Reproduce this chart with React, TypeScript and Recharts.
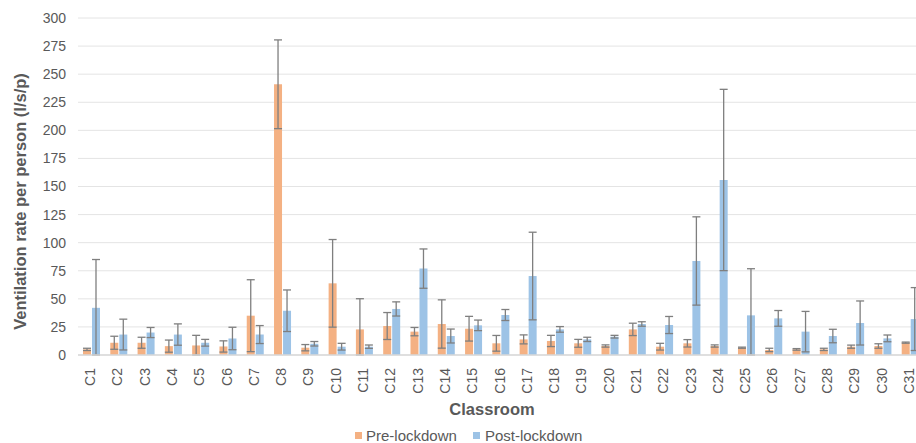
import React from 'react';
import { BarChart, Bar, XAxis, YAxis, CartesianGrid, ErrorBar, Legend } from 'recharts';

const classrooms = ['C1','C2','C3','C4','C5','C6','C7','C8','C9','C10','C11','C12','C13','C14','C15','C16','C17','C18','C19','C20','C21','C22','C23','C24','C25','C26','C27','C28','C29','C30','C31'];
const preLockdown = [5, 10.9, 10.9, 7.9, 8.5, 7.6, 35, 241, 6.5, 63.8, 22.8, 25.8, 20.8, 27.6, 23.4, 10.4, 13.9, 12.5, 10.4, 8, 22.8, 7.4, 10.4, 8, 6.5, 4.5, 5, 5, 7.4, 8, 11];
const preLockdownErr = [1, 5.8, 4.9, 5.4, 9, 5, 32, 39.5, 2.8, 39, 27.3, 12, 3.7, 21.5, 11, 7, 4, 5, 3.5, 1, 5.5, 3, 3.3, 1, 0.5, 1.5, 0.7, 1, 1.4, 2, 0.5];
const postLockdown = [42, 18.2, 20, 18.2, 10.9, 14.7, 18.2, 39.4, 10, 7.4, 7.4, 41, 76.9, 16.9, 26.4, 35.6, 70.3, 22.8, 13.9, 16.3, 27.6, 26.7, 83.7, 155.8, 35.3, 32.6, 20.8, 16.9, 28.5, 14.8, 32];
const postLockdownErr = [43, 13.7, 4.5, 9.5, 3, 10, 8, 18.5, 2, 3, 1.5, 6.3, 17.5, 6.2, 4.7, 4.9, 39, 2.5, 1.9, 1.2, 2, 7.6, 39.3, 80.7, 41.5, 7, 18, 6, 19.6, 3, 28];
const yTicks = [0, 25, 50, 75, 100, 125, 150, 175, 200, 225, 250, 275, 300];

const data = classrooms.map((name, i) => ({
  name,
  pre: preLockdown[i],
  preErr: [Math.min(preLockdownErr[i], preLockdown[i]), preLockdownErr[i]],
  post: postLockdown[i],
  postErr: [Math.min(postLockdownErr[i], postLockdown[i]), postLockdownErr[i]],
}));

const FONT = '"Liberation Sans", Arial, sans-serif';
const TEXT = '#595959';
const ORANGE = '#F4B183';
const BLUE = '#9DC3E6';

const XTick = (props: any) => {
  const { x, y, payload } = props;
  const tx = x - 1.5;
  const ty = y + 5;
  return (
    <text x={tx} y={ty} transform={`rotate(-90, ${tx}, ${ty})`} textAnchor="end" dominantBaseline="central"
      fontSize={14} fill={TEXT} fontFamily={FONT}>{payload.value}</text>
  );
};

const YLabel = (props: any) => {
  const vb = props.viewBox || {};
  const cx = 20;
  const cy = vb.y + vb.height / 2 + 15;
  return (
    <text x={cx} y={cy} transform={`rotate(-90, ${cx}, ${cy})`} textAnchor="middle" dominantBaseline="central"
      fontSize={16.5} fontWeight="bold" fill={TEXT} fontFamily={FONT}>Ventilation rate per person (l/s/p)</text>
  );
};

const XLabel = (props: any) => {
  const vb = props.viewBox || {};
  return (
    <text x={vb.x + vb.width / 2 - 9} y={vb.y + 54} textAnchor="middle" dominantBaseline="central"
      fontSize={16.5} fontWeight="bold" fill={TEXT} fontFamily={FONT}>Classroom</text>
  );
};

const LegendContent = () => (
  <div style={{ display: 'flex', fontFamily: FONT, fontSize: 15, color: TEXT, paddingLeft: 355, alignItems: 'center', height: 20 }}>
    <span style={{ width: 7, height: 7, background: ORANGE, display: 'inline-block', marginRight: 4 }} />
    <span style={{ marginRight: 16 }}>Pre-lockdown</span>
    <span style={{ width: 7, height: 7, background: BLUE, display: 'inline-block', marginRight: 5 }} />
    <span>Post-lockdown</span>
  </div>
);

export default function App() {
  return (
    <div style={{ position: 'absolute', left: 0, top: 0, width: 916, height: 443, overflow: 'hidden', background: '#fff' }}>
      <BarChart width={926} height={443} data={data} margin={{ top: 18, right: 2, bottom: 28, left: 0 }}
        barGap={1} barSize={8}>
        <CartesianGrid vertical={false} stroke="#e4e4e4" />
        <XAxis dataKey="name" interval={0} height={60} tickLine={false}
          axisLine={{ stroke: '#d9d9d9', strokeWidth: 1.5 }} tick={<XTick />} label={<XLabel />} />
        <YAxis width={78} domain={[0, 300]} ticks={yTicks} axisLine={false} tickLine={false} tickMargin={6}
          tick={{ fontSize: 14, fill: TEXT, fontFamily: FONT }} label={<YLabel />} />
        <Legend layout="horizontal" verticalAlign="middle" align="center" content={<LegendContent />}
          wrapperStyle={{ position: 'absolute', top: 425, left: 0, width: 926 }} />
        <Bar dataKey="pre" name="Pre-lockdown" fill={ORANGE} isAnimationActive={false}>
          <ErrorBar dataKey="preErr" width={4} stroke="#7f7f7f" strokeWidth={1.3} isAnimationActive={false} />
        </Bar>
        <Bar dataKey="post" name="Post-lockdown" fill={BLUE} isAnimationActive={false}>
          <ErrorBar dataKey="postErr" width={4} stroke="#7f7f7f" strokeWidth={1.3} isAnimationActive={false} />
        </Bar>
      </BarChart>
    </div>
  );
}
